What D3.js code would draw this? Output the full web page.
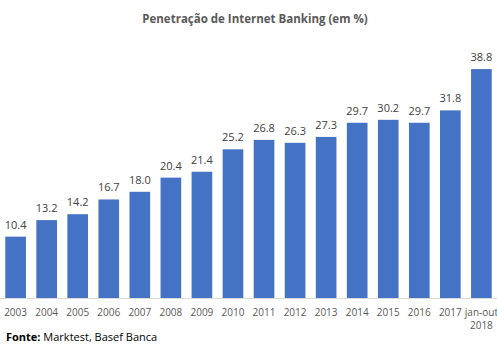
<!DOCTYPE html>
<html><head><meta charset="utf-8">
<script src="https://cdn.jsdelivr.net/npm/d3@7"></script>
<style>body{margin:0;background:#fff}svg{display:block}text{font-family:"Open Sans","Liberation Sans",sans-serif}</style>
</head><body><svg id="c" width="497" height="350"></svg>
<script>
const categories = ["2003","2004","2005","2006","2007","2008","2009","2010","2011","2012","2013","2014","2015","2016","2017","jan-out\n2018"];
const values = [10.4,13.2,14.2,16.7,18.0,20.4,21.4,25.2,26.8,26.3,27.3,29.7,30.2,29.7,31.8,38.8];
const title = "Penetração de Internet Banking (em %)";
const source = ["Fonte:", " Marktest, Basef Banca"];

const svg = d3.select("#c");
const x = d3.scaleBand().domain(categories).range([0, 497]).paddingInner(0.335).paddingOuter(0.17);
const y = d3.scaleLinear().domain([0, 40]).range([298, 62]);

svg.append("text").attr("x", 255).attr("y", 23).attr("text-anchor","middle")
  .attr("font-size", 11.5).attr("font-weight","bold").attr("fill","#595959").text(title);

svg.append("line").attr("x1",0).attr("x2",497).attr("y1",298.5).attr("y2",298.5).attr("stroke","#d9d9d9");

svg.selectAll("rect.bar").data(values).join("rect").attr("class","bar")
  .attr("x",(d,i)=>x(categories[i])).attr("width",x.bandwidth())
  .attr("y",d=>y(d)).attr("height",d=>y(0)-y(d)).attr("fill","#4472c4");

svg.selectAll("text.val").data(values).join("text").attr("class","val")
  .attr("x",(d,i)=>x(categories[i])+x.bandwidth()/2).attr("y",d=>y(d)-8)
  .attr("text-anchor","middle").attr("font-size",11).attr("fill","#404040").text(d=>d.toFixed(1));

const ax = svg.append("g");
categories.forEach(c=>{
  const t = ax.append("text").attr("x", x(c)+x.bandwidth()/2).attr("y", 316)
    .attr("text-anchor","middle").attr("font-size",10).attr("fill","#595959");
  c.split("\n").forEach((s,k)=>t.append("tspan").attr("x", x(c)+x.bandwidth()/2).attr("dy", k?13:0).text(s));
});

const src = svg.append("text").attr("x",6).attr("y",341).attr("font-size",11).attr("fill","#000");
src.append("tspan").attr("font-weight","bold").text(source[0]);
src.append("tspan").text(source[1]);
</script></body></html>
